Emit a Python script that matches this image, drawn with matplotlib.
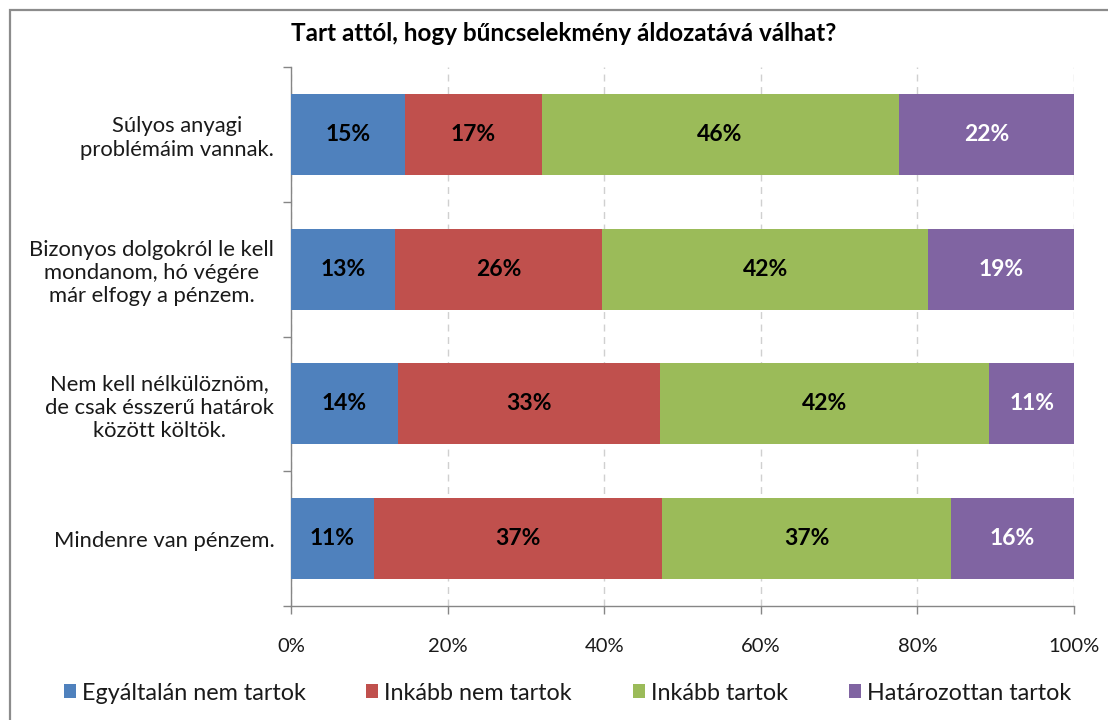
import numpy as np
import matplotlib.pyplot as plt
from matplotlib.patches import Patch, Rectangle

plt.rcParams['font.family'] = ['Lato', 'DejaVu Sans']

title = 'Tart attól, hogy bűncselekmény áldozatává válhat?'

categories = [
    'Súlyos anyagi\nproblémáim vannak.',
    'Bizonyos dolgokról le kell\nmondanom, hó végére\nmár elfogy a pénzem.',
    'Nem kell nélkülöznöm,\nde csak ésszerű határok\nközött költök.',
    'Mindenre van pénzem.',
]

series_names = ['Egyáltalán nem tartok', 'Inkább nem tartok',
                'Inkább tartok', 'Határozottan tartok']

# share of answers per category (percent)
egyaltalan_nem = [14.6, 13.3, 13.7, 10.6]
inkabb_nem = [17.4, 26.4, 33.4, 36.8]
inkabb_igen = [45.6, 41.7, 42.1, 36.9]
hatarozottan = [22.4, 18.6, 10.8, 15.7]

colors = ['#4F81BD', '#C0504D', '#9BBB59', '#8064A2']
label_colors = ['black', 'black', 'black', 'white']

series = [egyaltalan_nem, inkabb_nem, inkabb_igen, hatarozottan]

fig = plt.figure(figsize=(11.08, 7.2), dpi=100)
ax = fig.add_axes([0.2626, 0.1583, 0.7067, 0.7486])

y = np.arange(len(categories))
left = np.zeros(len(categories))
for vals, col, tcol in zip(series, colors, label_colors):
    vals = np.array(vals)
    ax.barh(y, vals, left=left, height=0.6, color=col, zorder=3)
    for yi, l, v in zip(y, left, vals):
        ax.text(l + v / 2, yi, f'{v:.0f}%', ha='center', va='center',
                fontsize=16.5, fontweight='bold', color=tcol, zorder=4)
    left += vals

ax.set_xlim(0, 100)
ax.set_ylim(len(categories) - 0.5, -0.5)

ax.set_xticks(np.arange(0, 101, 20))
ax.set_xticklabels([f'{v}%' for v in range(0, 101, 20)])
ax.tick_params(axis='x', direction='out', length=6, width=1, color='#868686',
               labelsize=14.5, pad=17, labelcolor='#1a1a1a')
ax.xaxis.grid(True, color='#d0d0d0', linestyle=(0, (5, 4)), linewidth=1, zorder=0)

ax.set_yticks(y)
ax.set_yticklabels(categories, ha='right', multialignment='center')
ax.set_yticks(np.arange(-0.5, len(categories)), minor=True)
ax.tick_params(axis='y', which='major', length=0, pad=12, labelsize=15.8,
               labelcolor='#1a1a1a')
ax.tick_params(axis='y', which='minor', direction='out', length=6, width=1,
               color='#868686')

for side in ['top', 'right']:
    ax.spines[side].set_visible(False)
for side in ['left', 'bottom']:
    ax.spines[side].set_color('#868686')
    ax.spines[side].set_linewidth(1)

fig.text(0.509, 0.953, title, ha='center', va='center', fontsize=17.5,
         fontweight='bold', color='black')

handles = [Patch(facecolor=c, edgecolor='none') for c in colors]
fig.legend(handles, series_names, loc='center', bbox_to_anchor=(0.512, 0.0375),
           ncol=4, frameon=False, fontsize=16.8, handlelength=0.52,
           handleheight=0.52, handletextpad=0.26, columnspacing=2.6,
           labelcolor='#1a1a1a')

# chart area border, running off the right and bottom edges
fig.patches.append(Rectangle((10 / 1108, -0.1), 1.2, 1.1 - 10 / 720,
                             transform=fig.transFigure, fill=False,
                             edgecolor='#8c8c8c', linewidth=1.6))

fig.savefig('out.png', dpi=100)
